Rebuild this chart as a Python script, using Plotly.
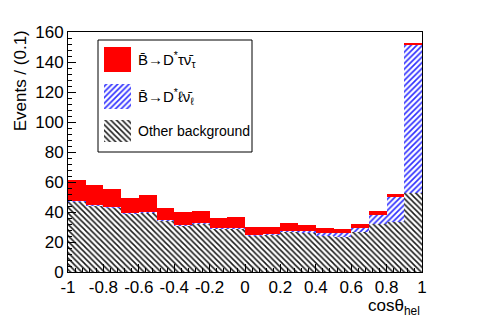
import plotly.graph_objects as go

# ---- data ----
bin_centers = [-0.95, -0.85, -0.75, -0.65, -0.55, -0.45, -0.35, -0.25, -0.15, -0.05,
               0.05, 0.15, 0.25, 0.35, 0.45, 0.55, 0.65, 0.75, 0.85, 0.95]
bin_width = 0.1
other_bkg = [46.9, 44.0, 42.7, 38.9, 39.8, 34.2, 31.1, 32.5, 29.1, 29.1,
             24.2, 25.0, 26.9, 26.5, 24.5, 23.5, 26.5, 32.3, 33.5, 52.5]
dstar_lnu = [0.6, 0.5, 0.5, 0.4, 0.5, 0.4, 0.5, 0.5, 0.4, 0.5,
             0.5, 0.3, 0.6, 0.8, 1.3, 2.3, 2.6, 6.0, 16.2, 98.6]
dstar_taunu = [13.9, 13.5, 11.9, 9.9, 11.2, 8.4, 8.4, 7.9, 6.2, 7.3,
               5.5, 4.9, 5.0, 4.0, 3.7, 2.7, 2.7, 2.2, 2.0, 1.8]
x_ticks = [-1, -0.8, -0.6, -0.4, -0.2, 0, 0.2, 0.4, 0.6, 0.8, 1]
x_ticktext = ["-1", "-0.8", "-0.6", "-0.4", "-0.2", "0", "0.2", "0.4", "0.6", "0.8", "1"]
y_ticks = [0, 20, 40, 60, 80, 100, 120, 140, 160]

lbl_tau = "B\u0304\u2192D<sup>*</sup>\u03c4\u03bd\u0304<sub>\u03c4</sub>"
lbl_lnu = "B\u0304\u2192D<sup>*</sup>\u2113\u03bd\u0304<sub>\u2113</sub>"
lbl_oth = "Other background"

FONT = "Liberation Sans, Arial, sans-serif"
RED = "#ff0000"
BLUE = "#2f2fff"
GRAY_FG = "#1a1a1a"

oth_pattern = dict(shape="\\", fgcolor=GRAY_FG, bgcolor="white", size=4, solidity=0.38, fillmode="replace")
lnu_pattern = dict(shape="/", fgcolor=BLUE, bgcolor="white", size=4, solidity=0.42, fillmode="replace")

fig = go.Figure()
fig.add_trace(go.Bar(x=bin_centers, y=other_bkg, width=bin_width, name=lbl_oth,
                     marker=dict(color="white", line=dict(width=0), pattern=oth_pattern)))
fig.add_trace(go.Bar(x=bin_centers, y=dstar_lnu, width=bin_width, name=lbl_lnu,
                     marker=dict(color="white", line=dict(width=0), pattern=lnu_pattern)))
fig.add_trace(go.Bar(x=bin_centers, y=dstar_taunu, width=bin_width, name=lbl_tau,
                     marker=dict(color=RED, line=dict(width=0))))

# ---- custom ROOT-style legend drawn in pixel-like overlay coordinates ----
L, R, T, B = 68, 422, 32, 272
sw_x0, sw_x1 = 104, 131
swatches = [
    (47, 72, dict(fillcolor=RED)),
    (84, 109, dict(fillcolor="white", fillpattern=lnu_pattern)),
    (120, 142, dict(fillcolor="white", fillpattern=oth_pattern)),
]
for y0, y1, style in swatches:
    fig.add_trace(go.Scatter(x=[sw_x0, sw_x1, sw_x1, sw_x0, sw_x0], y=[y0, y0, y1, y1, y0],
                             xaxis="x2", yaxis="y2", mode="lines", fill="toself",
                             line=dict(width=0), showlegend=False, hoverinfo="skip", **style))

fig.add_shape(type="rect", xref="x2", yref="y2", x0=98, x1=252, y0=40, y1=152,
              line=dict(color="black", width=1), fillcolor="white", layer="below")
for txt, yc, fs in [(lbl_tau, 59, 15), (lbl_lnu, 96, 15), (lbl_oth, 131, 14)]:
    fig.add_annotation(xref="x2", yref="y2", x=136, y=yc, text=txt, showarrow=False,
                       xanchor="left", yanchor="middle", font=dict(family=FONT, size=fs, color="black"))

fig.add_annotation(xref="paper", yref="paper", x=1.0, y=-0.2, text="cos\u03b8<sub>hel</sub>",
                   showarrow=False, xanchor="right", yanchor="bottom",
                   font=dict(family=FONT, size=17, color="black"))
fig.add_annotation(xref="paper", yref="paper", x=-0.133, y=1.017, text="Events / (0.1)",
                   showarrow=False, textangle=-90, xanchor="center", yanchor="top",
                   font=dict(family=FONT, size=17, color="black"))

fig.update_layout(
    width=491, height=317,
    margin=dict(l=L, r=491 - R, t=T, b=317 - B, pad=0),
    barmode="stack", bargap=0,
    showlegend=False,
    paper_bgcolor="white", plot_bgcolor="white",
    font=dict(family=FONT, size=17, color="black"),
    xaxis=dict(range=[-1, 1], tickvals=x_ticks, ticktext=x_ticktext,
               ticks="inside", ticklen=8, tickwidth=1, tickcolor="black",
               showline=True, linecolor="black", linewidth=1, mirror=True,
               showgrid=False, zeroline=False,
               minor=dict(dtick=0.04, ticks="inside", ticklen=4, tickcolor="black"),
               tickfont=dict(family=FONT, size=17)),
    yaxis=dict(range=[0, 160], tickvals=y_ticks,
               ticks="inside", ticklen=8, tickwidth=1, tickcolor="black",
               showline=True, linecolor="black", linewidth=1, mirror=True,
               showgrid=False, zeroline=False,
               minor=dict(dtick=4, ticks="inside", ticklen=4, tickcolor="black"),
               tickfont=dict(family=FONT, size=17)),
    xaxis2=dict(overlaying="x", anchor="y2", range=[L, R], visible=False, fixedrange=True),
    yaxis2=dict(overlaying="y", anchor="x2", range=[B, T], visible=False, fixedrange=True),
)

fig.write_html("out.html", config={"displayModeBar": False},
               post_script="document.body.style.margin='0';document.body.style.overflow='hidden';")
